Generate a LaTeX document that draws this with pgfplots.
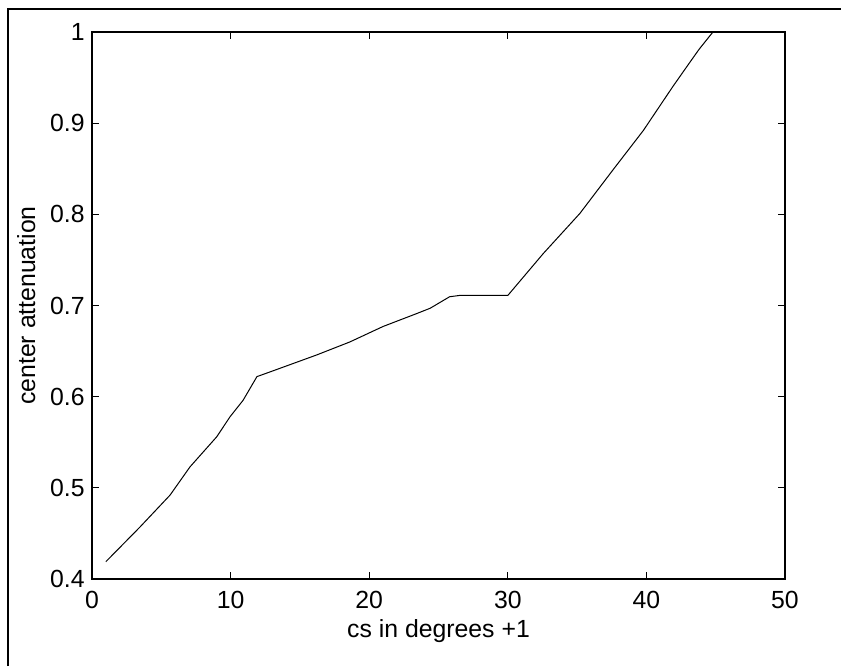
\documentclass[border=0pt]{standalone}
\usepackage{fontspec}
\setmainfont{Liberation Sans}
\usepackage{pgfplots}
\pgfplotsset{compat=1.18}
\newcommand{\lblfont}{\fontsize{12.4}{15}\selectfont}
\begin{document}
\begin{tikzpicture}
\path[use as bounding box] (0,0) rectangle (420.5pt,333pt);
\draw[line width=0.6pt] (4pt,0) -- (4pt,328.5pt) -- (420.5pt,328.5pt);
\draw[line width=1.1pt] (405pt,328.5pt) -- (420.5pt,328.5pt);
\begin{axis}[
  at={(46pt,43.5pt)}, anchor=south west,
  width=346.5pt, height=273.5pt, scale only axis,
  xmin=0, xmax=50, ymin=0.4, ymax=1,
  xtick={0,10,...,50},
  ytick={0.4,0.5,0.6,0.7,0.8,0.9,1},
  yticklabels={0.4,0.5,0.6,0.7,0.8,0.9,1},
  tick align=inside,
  major tick length=3.5pt,
  axis line style={line width=0.65pt},
  every tick/.style={black, line width=0.65pt},
  /pgf/number format/assume math mode=true,
  xticklabel style={font=\lblfont, anchor=base, yshift=-14.5pt},
  yticklabel style={font=\lblfont, anchor=east, inner sep=0pt, xshift=-3.5pt},
  xlabel={cs in degrees +1},
  ylabel={center attenuation},
  every axis x label/.style={at={(rel axis cs:0.5,0)}, anchor=base, yshift=-29pt, font=\lblfont},
  every axis y label/.style={at={(rel axis cs:0,0.5)}, rotate=90, anchor=base, yshift=28.5pt, font=\lblfont},
  clip=true,
]
\addplot[black, line width=0.5pt] coordinates {
(1,0.419) (3.46,0.457) (5.63,0.492) (7.07,0.523) (9.0,0.556) (9.96,0.578)
(10.9,0.596) (11.9,0.622) (13,0.628) (16.2,0.6457) (18.6,0.660) (21.0,0.677)
(23.4,0.691) (24.4,0.697) (25.8,0.7096) (26.5,0.711) (30.0,0.711)
(32.56,0.757) (35.2,0.801) (37.6,0.849) (39.78,0.892) (41.9,0.94)
(43.1,0.966) (43.8,0.981) (44.8,1.0)
};
\end{axis}
\end{tikzpicture}
\end{document}
